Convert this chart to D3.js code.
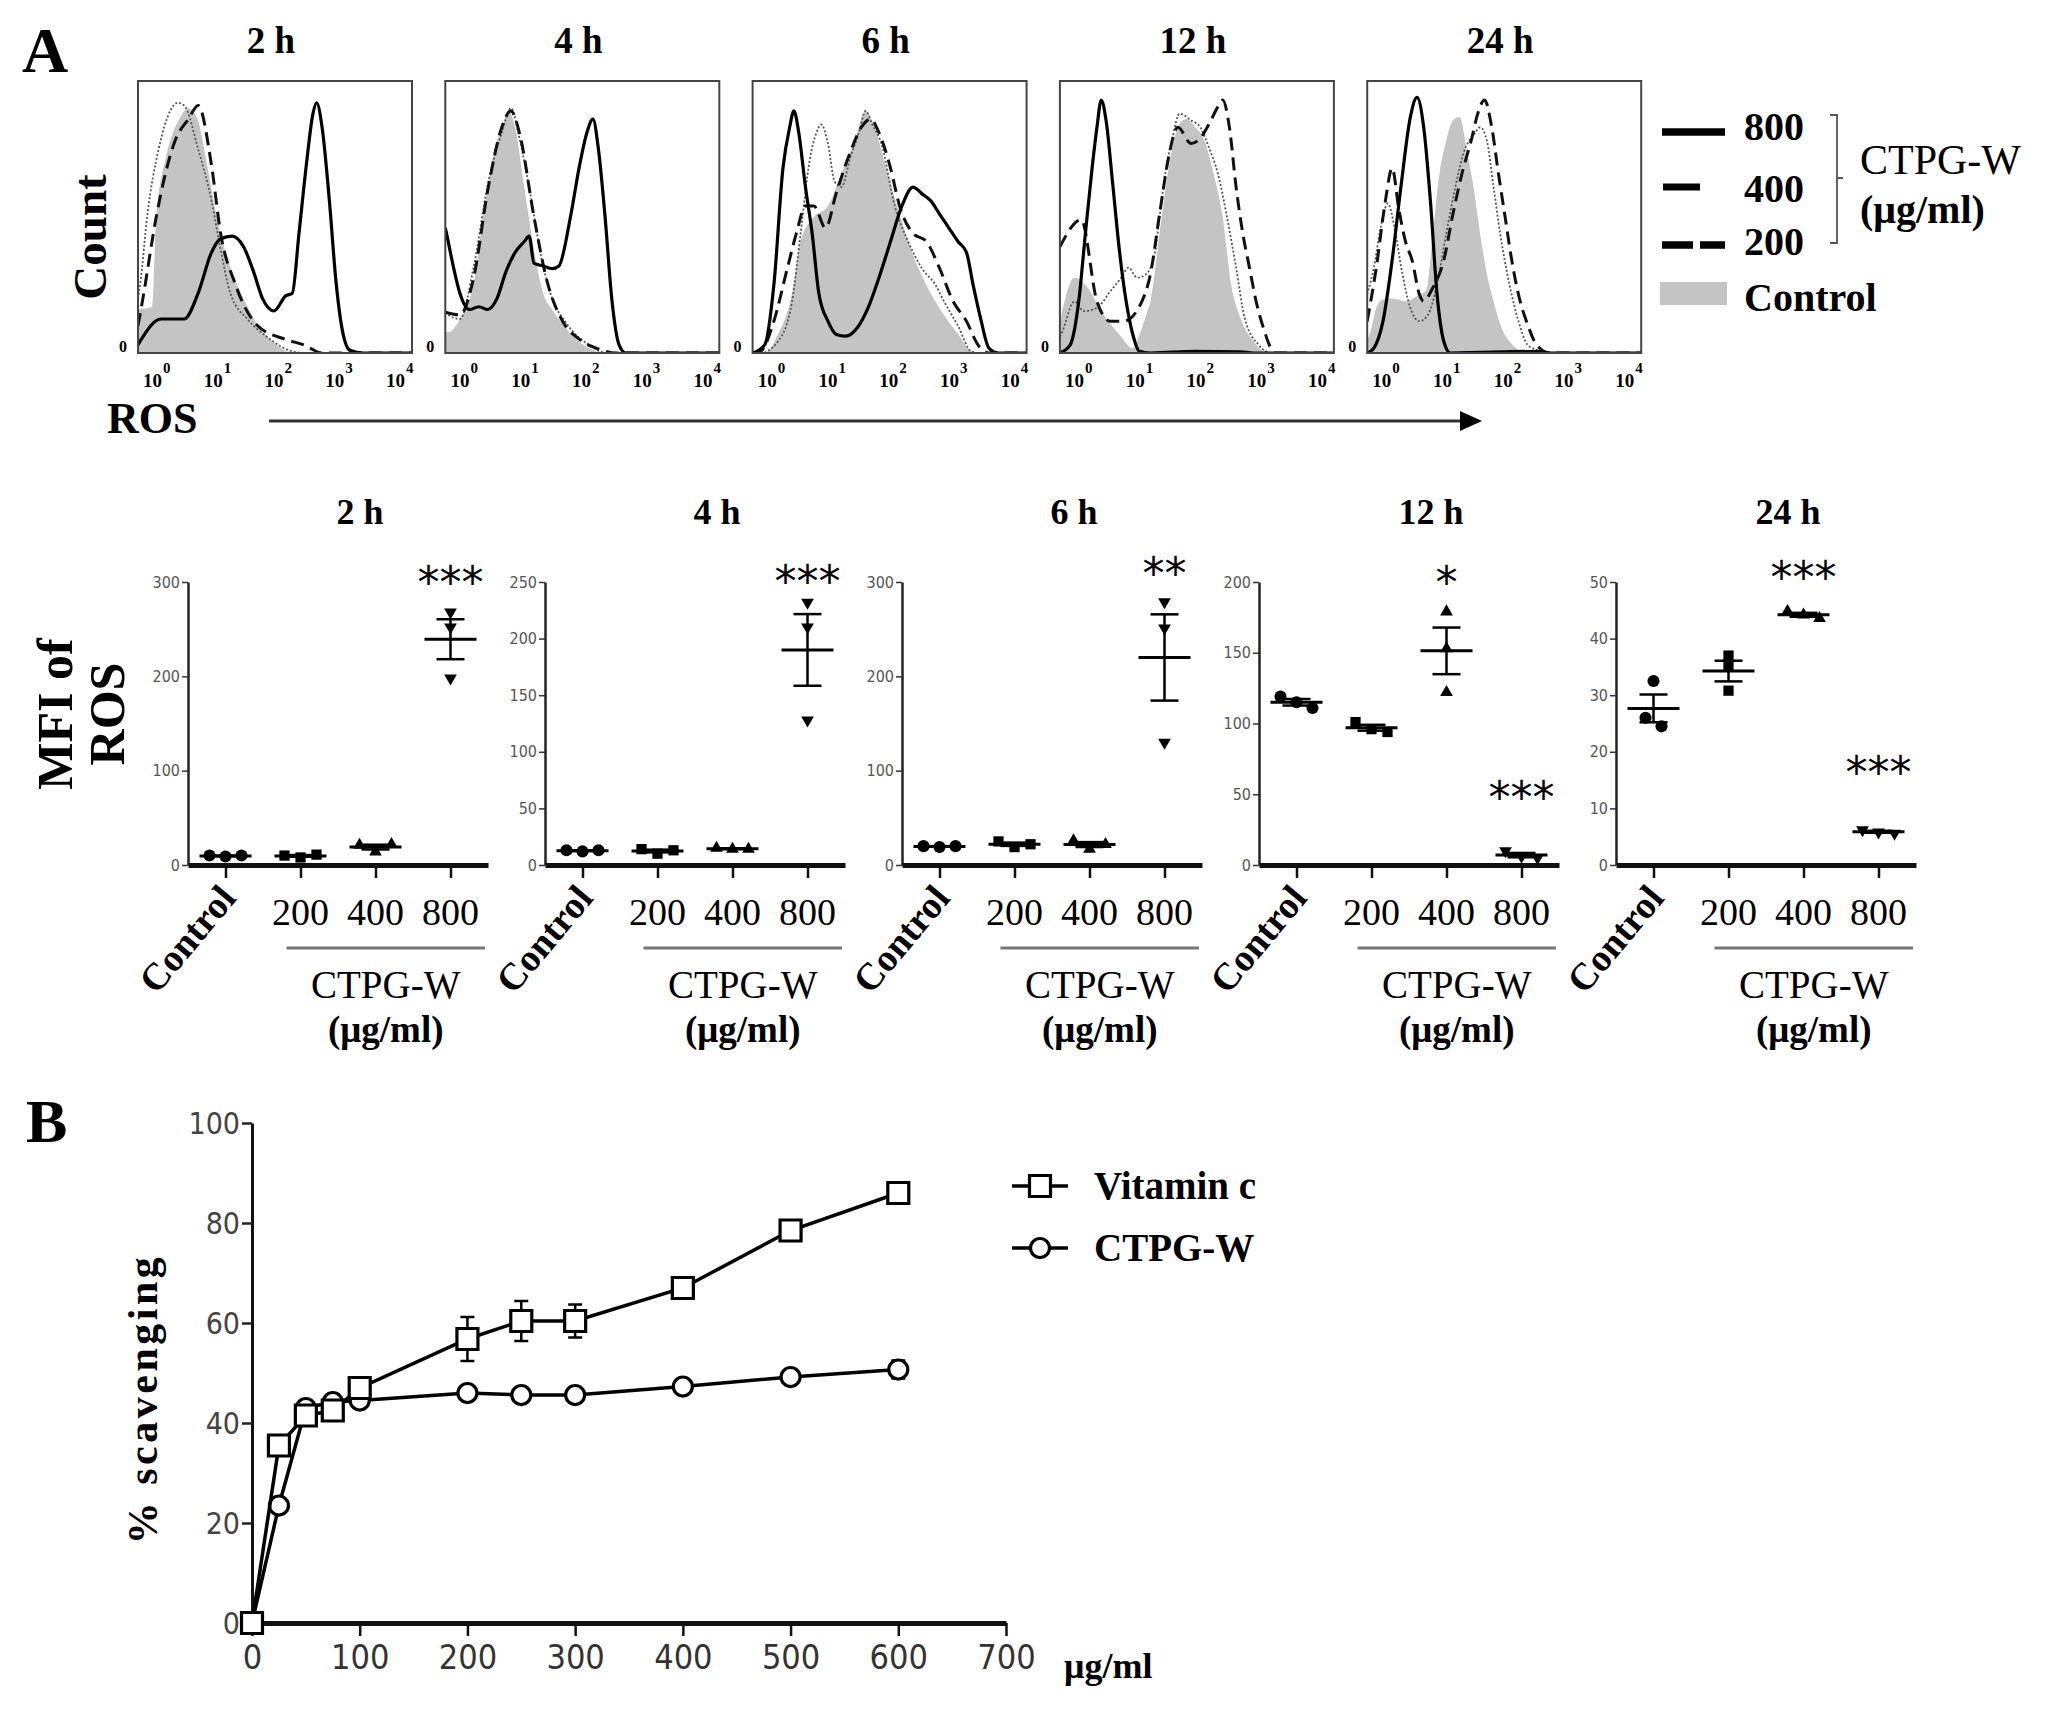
<!DOCTYPE html>
<html>
<head>
<meta charset="utf-8">
<script src="https://cdn.jsdelivr.net/npm/d3@7"></script>
<style>
  body { margin: 0; background: #fff; }
  svg { display: block; }
</style>
</head>
<body>
<div id="chart"></div>
<script>
// ---------- data ----------
const timePoints = ['2 h', '4 h', '6 h', '12 h', '24 h'];
const doseGroups = ['Control', '200', '400', '800'];

// flow histograms: [log10 ROS, fraction of panel height]
const histControl = [
  [[-0.38,0.16],[-0.15,0.17],[-0.08,0.5],[0.08,0.72],[0.3,0.86],[0.45,0.9],[0.6,0.86],[0.75,0.7],[0.9,0.52],[1.05,0.38],[1.2,0.28],[1.4,0.18],[1.6,0.1],[1.9,0.03],[2.15,0],[4.13,0]],
  [[-0.38,0.08],[-0.33,0.076],[-0.14,0.125],[0.09,0.26],[0.24,0.5],[0.39,0.71],[0.55,0.83],[0.66,0.89],[0.77,0.83],[0.92,0.61],[1.08,0.38],[1.23,0.22],[1.38,0.16],[1.61,0.09],[1.83,0.04],[2.06,0.01],[2.21,0],[4.13,0]],
  [[-0.38,0],[-0.18,0],[0.04,0.07],[0.27,0.22],[0.41,0.41],[0.63,0.5],[0.86,0.54],[1.08,0.66],[1.3,0.78],[1.48,0.89],[1.63,0.83],[1.82,0.68],[2.04,0.51],[2.26,0.36],[2.48,0.25],[2.77,0.14],[3.0,0.07],[3.22,0.006],[3.29,0],[4.13,0]],
  [[-0.38,0.117],[-0.14,0.277],[0.08,0.24],[0.3,0.154],[0.6,0.068],[0.82,0.018],[0.93,0.068],[1.04,0.14],[1.11,0.19],[1.26,0.44],[1.41,0.68],[1.56,0.83],[1.7,0.86],[1.85,0.83],[2.0,0.78],[2.15,0.66],[2.3,0.5],[2.44,0.25],[2.59,0.13],[2.81,0.043],[3.03,0],[4.13,0]],
  [[-0.38,0.05],[-0.34,0.068],[-0.23,0.166],[-0.12,0.197],[0.03,0.2],[0.25,0.19],[0.48,0.215],[0.59,0.23],[0.7,0.437],[0.81,0.66],[0.92,0.78],[1.03,0.856],[1.14,0.868],[1.26,0.745],[1.37,0.61],[1.48,0.437],[1.59,0.29],[1.7,0.19],[1.81,0.105],[1.96,0.043],[2.11,0.012],[2.26,0],[4.13,0]]
];
const hist200 = [
  [[-0.38,0.1],[-0.3,0.2],[-0.08,0.5],[0.23,0.78],[0.45,0.86],[0.61,0.91],[0.83,0.69],[0.98,0.44],[1.21,0.26],[1.59,0.1],[2.05,0.05],[2.35,0.03],[2.65,0],[4.13,0]],
  [[-0.38,0.15],[-0.14,0.14],[0.09,0.28],[0.32,0.6],[0.55,0.83],[0.7,0.89],[0.85,0.8],[1.08,0.5],[1.3,0.26],[1.53,0.125],[1.83,0.05],[2.14,0.015],[2.44,0],[4.13,0]],
  [[-0.38,0],[-0.25,0.006],[-0.03,0.117],[0.19,0.31],[0.34,0.44],[0.49,0.54],[0.63,0.54],[0.82,0.46],[1.0,0.59],[1.23,0.74],[1.41,0.83],[1.56,0.86],[1.7,0.81],[1.89,0.68],[2.04,0.54],[2.26,0.44],[2.48,0.41],[2.7,0.31],[2.92,0.19],[3.14,0.117],[3.33,0.03],[3.51,0],[4.13,0]],
  [[-0.38,0.39],[-0.03,0.49],[0.23,0.19],[0.45,0.117],[0.67,0.117],[0.97,0.19],[1.11,0.29],[1.26,0.51],[1.41,0.72],[1.56,0.83],[1.78,0.77],[1.93,0.79],[2.07,0.84],[2.22,0.905],[2.3,0.93],[2.41,0.83],[2.52,0.61],[2.63,0.44],[2.74,0.314],[2.85,0.19],[2.97,0.092],[3.11,0.012],[3.18,0],[4.13,0]],
  [[-0.38,0.117],[-0.23,0.314],[-0.08,0.56],[0.03,0.68],[0.14,0.53],[0.25,0.41],[0.36,0.34],[0.48,0.215],[0.55,0.19],[0.7,0.24],[0.88,0.34],[1.03,0.51],[1.18,0.66],[1.33,0.78],[1.44,0.88],[1.55,0.93],[1.67,0.83],[1.78,0.66],[1.89,0.5],[2.0,0.34],[2.11,0.215],[2.26,0.105],[2.41,0.03],[2.63,0],[4.13,0]]
];
const hist400 = [
  [[-0.38,0.2],[-0.34,0.26],[-0.23,0.5],[-0.04,0.75],[0.15,0.89],[0.27,0.92],[0.38,0.91],[0.61,0.75],[0.83,0.56],[0.98,0.38],[1.14,0.22],[1.44,0.12],[1.74,0.06],[2.05,0.015],[2.35,0],[4.13,0]],
  [[-0.38,0.15],[-0.33,0.14],[-0.14,0.125],[0.09,0.32],[0.32,0.62],[0.55,0.81],[0.7,0.9],[0.85,0.78],[1.0,0.61],[1.23,0.32],[1.38,0.2],[1.61,0.11],[1.98,0.03],[2.29,0],[4.13,0]],
  [[-0.38,0],[-0.25,0],[0.04,0.043],[0.27,0.19],[0.41,0.44],[0.56,0.71],[0.67,0.81],[0.75,0.84],[0.86,0.77],[0.97,0.63],[1.08,0.61],[1.23,0.72],[1.37,0.81],[1.48,0.89],[1.59,0.84],[1.74,0.77],[1.96,0.54],[2.18,0.41],[2.41,0.31],[2.63,0.25],[2.77,0.19],[3.0,0.1],[3.22,0.006],[3.37,0],[4.13,0]],
  [[-0.38,0.06],[-0.36,0.068],[-0.14,0.19],[0.01,0.154],[0.23,0.166],[0.45,0.227],[0.63,0.277],[0.75,0.314],[0.89,0.277],[1.04,0.29],[1.19,0.376],[1.26,0.5],[1.37,0.68],[1.48,0.8],[1.59,0.88],[1.78,0.855],[1.93,0.83],[2.07,0.757],[2.22,0.66],[2.37,0.5],[2.52,0.314],[2.66,0.13],[2.89,0.03],[3.11,0],[4.13,0]],
  [[-0.38,0.216],[-0.27,0.314],[-0.16,0.46],[-0.04,0.55],[0.07,0.46],[0.18,0.314],[0.33,0.166],[0.48,0.117],[0.62,0.14],[0.77,0.253],[0.92,0.437],[1.07,0.61],[1.22,0.745],[1.37,0.8],[1.48,0.83],[1.59,0.78],[1.7,0.61],[1.81,0.437],[1.96,0.253],[2.11,0.117],[2.26,0.03],[2.41,0.012],[2.56,0],[4.13,0]]
];
const hist800 = [
  [[-0.38,0.03],[-0.34,0.045],[0,0.125],[0.38,0.125],[0.61,0.22],[0.83,0.37],[0.98,0.42],[1.17,0.43],[1.36,0.39],[1.52,0.3],[1.67,0.2],[1.86,0.155],[2.05,0.21],[2.16,0.22],[2.27,0.44],[2.39,0.69],[2.5,0.88],[2.56,0.92],[2.65,0.83],[2.77,0.56],[2.88,0.26],[2.99,0.076],[3.11,0.01],[3.33,0],[4.13,0]],
  [[-0.38,0.46],[-0.36,0.44],[-0.25,0.32],[-0.14,0.22],[0.02,0.16],[0.17,0.17],[0.32,0.16],[0.47,0.2],[0.62,0.3],[0.77,0.37],[0.92,0.41],[1.0,0.43],[1.08,0.33],[1.23,0.32],[1.38,0.31],[1.49,0.32],[1.68,0.5],[1.83,0.69],[1.95,0.81],[2.05,0.86],[2.14,0.75],[2.25,0.5],[2.36,0.2],[2.48,0.03],[2.59,0],[4.13,0]],
  [[-0.38,0],[-0.18,0.03],[-0.03,0.25],[0.12,0.68],[0.23,0.83],[0.3,0.89],[0.38,0.81],[0.49,0.61],[0.6,0.44],[0.71,0.22],[0.86,0.117],[1.0,0.068],[1.15,0.062],[1.34,0.092],[1.52,0.166],[1.7,0.277],[1.89,0.41],[2.07,0.536],[2.26,0.61],[2.41,0.585],[2.55,0.56],[2.7,0.51],[2.85,0.46],[3.0,0.41],[3.14,0.37],[3.25,0.25],[3.37,0.13],[3.51,0.018],[3.66,0],[4.13,0]],
  [[-0.38,0],[-0.21,0.03],[-0.07,0.19],[0.04,0.44],[0.15,0.68],[0.23,0.83],[0.3,0.93],[0.38,0.855],[0.49,0.62],[0.6,0.376],[0.71,0.19],[0.82,0.068],[0.93,0.006],[1.11,0],[1.85,0.006],[2.59,0.004],[2.81,0],[4.13,0]],
  [[-0.38,0],[-0.27,0.018],[-0.12,0.117],[0.03,0.34],[0.18,0.62],[0.33,0.867],[0.44,0.94],[0.55,0.83],[0.66,0.56],[0.77,0.215],[0.88,0.043],[0.99,0],[2.41,0.006],[2.63,0],[4.13,0]]
];
const histDecades = [0, 1, 2, 3, 4];

// MFI of ROS, three replicates per group and time point
const mfiControl = [[10, 9, 10], [13, 12, 13], [20, 19, 20], [119, 115, 111], [32.5, 26, 24.5]];
const mfi200 = [[10, 8, 11], [14, 10, 13], [25, 19, 22], [101, 96, 94], [37, 35, 30.8]];
const mfi400 = [[21, 14, 22], [15, 14, 14], [26, 17, 22], [179, 153, 122], [44.8, 44.2, 43.6]];
const mfi800 = [[268, 252, 198], [232, 210, 128], [279, 251, 130], [10, 6, 5], [6.2, 5.8, 5.6]];
const mfiMax = [300, 250, 300, 200, 50];
const mfiTicks = [
  [0, 100, 200, 300],
  [0, 50, 100, 150, 200, 250],
  [0, 100, 200, 300],
  [0, 50, 100, 150, 200],
  [0, 10, 20, 30, 40, 50]
];
// significance marks, placed at a value on each panel's axis
const mfiStars = [
  { time: 0, group: '800', label: '***', at: 309 },
  { time: 1, group: '800', label: '***', at: 258 },
  { time: 2, group: '800', label: '**', at: 318 },
  { time: 3, group: '400', label: '*', at: 206 },
  { time: 3, group: '800', label: '***', at: 54 },
  { time: 4, group: '400', label: '***', at: 52.3 },
  { time: 4, group: '800', label: '***', at: 17.9 }
];

// panel B: scavenging
const concentrations = [0, 25, 50, 75, 100, 200, 250, 300, 400, 500, 600];
const vitaminC = [0, 35.5, 41.5, 42.5, 47, 56.8, 60.4, 60.4, 67, 78.5, 86];
const vitaminCErr = [0.5, 1.5, 1.5, 2, 1, 4.4, 4, 3.3, 1, 1.8, 1.8];
const ctpgW = [0, 23.5, 43, 44.2, 44.5, 46, 45.6, 45.6, 47.3, 49.2, 50.7];
const ctpgWErr = [0.5, 0.8, 0.8, 1.5, 0.8, 0.7, 0.7, 0.7, 0.7, 0.8, 1.8];
const scavXTicks = [0, 100, 200, 300, 400, 500, 600, 700];
const scavYTicks = [0, 20, 40, 60, 80, 100];

// ---------- drawing ----------
const serif = "'Liberation Serif','Times New Roman',serif";
const narrow = "'Liberation Sans Narrow','DejaVu Sans Condensed','Arial Narrow',sans-serif";

const svg = d3.select('#chart').append('svg')
  .attr('width', 2055)
  .attr('height', 1709)
  .style('background', '#fff');

svg.append('text').attr('x', 22).attr('y', 72)
  .attr('font-family', serif).attr('font-weight', 'bold').attr('font-size', 64)
  .text('A');

// --- histograms ---
const hist = { left: 138, step: 307.3, top: 81, width: 274, height: 272 };
const hx = d3.scaleLog().domain([10 ** -0.38, 10 ** 4.13]).range([0, hist.width]);
const hy = d3.scaleLinear().domain([0, 1]).range([hist.height, 0]);
const histLine = d3.line().x(d => hx(10 ** d[0])).y(d => hy(d[1])).curve(d3.curveMonotoneX);
const histArea = d3.area().x(d => hx(10 ** d[0])).y0(hist.height).y1(d => hy(d[1])).curve(d3.curveMonotoneX);

timePoints.forEach((t, i) => {
  const g = svg.append('g')
    .attr('transform', `translate(${hist.left + i * hist.step},${hist.top})`);

  g.append('clipPath').attr('id', `hclip-${i}`)
    .append('rect').attr('width', hist.width).attr('height', hist.height);
  const plot = g.append('g').attr('clip-path', `url(#hclip-${i})`);

  plot.append('path').datum(histControl[i]).attr('d', histArea).attr('fill', '#c4c4c4');
  plot.append('path').datum(hist400[i]).attr('d', histLine)
    .attr('fill', 'none').attr('stroke', '#555').attr('stroke-width', 1.8)
    .attr('stroke-dasharray', '2,2');
  plot.append('path').datum(hist200[i]).attr('d', histLine)
    .attr('fill', 'none').attr('stroke', '#111').attr('stroke-width', 3)
    .attr('stroke-dasharray', '13,7');
  plot.append('path').datum(hist800[i]).attr('d', histLine)
    .attr('fill', 'none').attr('stroke', '#000').attr('stroke-width', 3.2);

  g.append('rect').attr('width', hist.width).attr('height', hist.height)
    .attr('fill', 'none').attr('stroke', '#444').attr('stroke-width', 2);

  g.append('text').attr('x', hist.width / 2 - 4).attr('y', -28)
    .attr('text-anchor', 'middle')
    .attr('font-family', serif).attr('font-weight', 'bold').attr('font-size', 37)
    .text(t);

  g.append('text').attr('x', -11).attr('y', hist.height - 1)
    .attr('text-anchor', 'end')
    .attr('font-family', serif).attr('font-weight', 'bold').attr('font-size', 16)
    .text('0');

  const ticks = g.selectAll('.dec').data(histDecades).join('g')
    .attr('class', 'dec')
    .attr('transform', d => `translate(${hx(10 ** d)},${hist.height})`);
  ticks.append('text').attr('x', 1).attr('y', 34)
    .attr('text-anchor', 'end')
    .attr('font-family', serif).attr('font-weight', 'bold').attr('font-size', 19)
    .text('10');
  ticks.append('text').attr('x', 2).attr('y', 20)
    .attr('font-family', serif).attr('font-weight', 'bold').attr('font-size', 15)
    .text(d => d);
});

svg.append('text')
  .attr('transform', 'translate(106,237) rotate(-90)')
  .attr('text-anchor', 'middle')
  .attr('font-family', serif).attr('font-weight', 'bold').attr('font-size', 47)
  .text('Count');

svg.append('text').attr('x', 107).attr('y', 433)
  .attr('font-family', serif).attr('font-weight', 'bold').attr('font-size', 44)
  .text('ROS');

svg.append('line').attr('x1', 269).attr('x2', 1462).attr('y1', 421).attr('y2', 421)
  .attr('stroke', '#333').attr('stroke-width', 3);
svg.append('path').attr('d', 'M1460,411 L1482,421 L1460,431 Z').attr('fill', '#000');

// legend for histograms
const histLegend = svg.append('g');
histLegend.append('line').attr('x1', 1662).attr('x2', 1725).attr('y1', 132).attr('y2', 132)
  .attr('stroke', '#000').attr('stroke-width', 7.5);
histLegend.append('line').attr('x1', 1663).attr('x2', 1700).attr('y1', 187).attr('y2', 187)
  .attr('stroke', '#000').attr('stroke-width', 7);
histLegend.append('line').attr('x1', 1662).attr('x2', 1725).attr('y1', 245).attr('y2', 245)
  .attr('stroke', '#000').attr('stroke-width', 7.5).attr('stroke-dasharray', '31,7');
histLegend.append('rect').attr('x', 1660).attr('y', 282).attr('width', 67).attr('height', 23)
  .attr('fill', '#c4c4c4');
[['800', 140], ['400', 202], ['200', 255], ['Control', 311]].forEach(([txt, y]) => {
  histLegend.append('text').attr('x', 1744).attr('y', y)
    .attr('font-family', serif).attr('font-weight', 'bold').attr('font-size', 40).text(txt);
});
histLegend.append('path').attr('d', 'M1830,115 H1837 V243 H1830 M1837,178 H1843')
  .attr('fill', 'none').attr('stroke', '#555').attr('stroke-width', 1.8);
histLegend.append('text').attr('x', 1860).attr('y', 174)
  .attr('font-family', serif).attr('font-size', 42).text('CTPG-W');
histLegend.append('text').attr('x', 1860).attr('y', 223)
  .attr('font-family', serif).attr('font-weight', 'bold').attr('font-size', 40).text('(μg/ml)');

// --- MFI scatter panels ---
const mfi = { left: 188, step: 357, width: 300, top: 582, bottom: 865 };
const mfiSeries = [mfiControl, mfi200, mfi400, mfi800];
const groupSymbols = [d3.symbolCircle, d3.symbolSquare, d3.symbolTriangle, d3.symbolTriangle];
const groupSizes = [115, 105, 70, 70];
const groupFlip = [0, 0, 0, 180];
const mx = d3.scalePoint().domain(doseGroups).range([0, mfi.width]).padding(0.5);

function spread(values, y, gap, spacing) {
  const order = values.map((v, k) => k).sort((a, b) => values[a] - values[b]);
  const offsets = values.map(() => 0);
  let cluster = [order[0]];
  const flush = () => {
    cluster.sort((a, b) => a - b)
      .forEach((k, j) => { offsets[k] = (j - (cluster.length - 1) / 2) * spacing; });
  };
  for (let j = 1; j < order.length; j++) {
    if (Math.abs(y(values[order[j]]) - y(values[order[j - 1]])) < gap) cluster.push(order[j]);
    else { flush(); cluster = [order[j]]; }
  }
  flush();
  return offsets;
}

timePoints.forEach((t, i) => {
  const g = svg.append('g').attr('transform', `translate(${mfi.left + i * mfi.step},0)`);
  const my = d3.scaleLinear().domain([0, mfiMax[i]]).range([mfi.bottom, mfi.top]);

  const yAxis = g.append('g')
    .call(d3.axisLeft(my).tickValues(mfiTicks[i]).tickSize(6).tickSizeOuter(0).tickPadding(2));
  yAxis.select('.domain').attr('stroke', '#222').attr('stroke-width', 2.5);
  yAxis.selectAll('.tick line').attr('stroke', '#333').attr('stroke-width', 1.5);
  yAxis.selectAll('.tick text').attr('font-family', narrow).attr('font-size', 16).attr('fill', '#555');

  const xAxis = g.append('g').attr('transform', `translate(0,${mfi.bottom})`)
    .call(d3.axisBottom(mx).tickSize(13).tickSizeOuter(0).tickFormat(''));
  xAxis.select('.domain').attr('stroke', '#111').attr('stroke-width', 5);
  xAxis.selectAll('.tick line').attr('stroke', '#111').attr('stroke-width', 2.5);

  // group labels
  g.append('text')
    .attr('transform', `translate(${mx('Control') + 12},${mfi.bottom + 34}) rotate(-50)`)
    .attr('text-anchor', 'end')
    .attr('font-family', serif).attr('font-weight', 'bold').attr('font-size', 38)
    .text('Control');
  doseGroups.slice(1).forEach(d => {
    g.append('text').attr('x', mx(d)).attr('y', mfi.bottom + 60)
      .attr('text-anchor', 'middle')
      .attr('font-family', serif).attr('font-size', 38)
      .text(d);
  });
  g.append('line')
    .attr('x1', mx('200') - 14).attr('x2', mfi.width - 3)
    .attr('y1', mfi.bottom + 83).attr('y2', mfi.bottom + 83)
    .attr('stroke', '#777').attr('stroke-width', 3);
  const labelMid = (mx('200') - 14 + mfi.width - 3) / 2;
  g.append('text').attr('x', labelMid).attr('y', mfi.bottom + 133)
    .attr('text-anchor', 'middle')
    .attr('font-family', serif).attr('font-size', 39)
    .text('CTPG-W');
  g.append('text').attr('x', labelMid).attr('y', mfi.bottom + 177)
    .attr('text-anchor', 'middle')
    .attr('font-family', serif).attr('font-weight', 'bold').attr('font-size', 37)
    .text('(μg/ml)');

  g.append('text').attr('x', 172).attr('y', 524)
    .attr('text-anchor', 'middle')
    .attr('font-family', serif).attr('font-weight', 'bold').attr('font-size', 36)
    .text(t);

  // points with mean ± SEM
  doseGroups.forEach((grp, j) => {
    const vals = mfiSeries[j][i];
    const cx = mx(grp);
    const mean = d3.mean(vals);
    const sem = d3.deviation(vals) / Math.sqrt(vals.length);
    const offs = spread(vals, my, 11, 16);
    const sym = d3.symbol().type(groupSymbols[j]).size(groupSizes[j]);

    g.selectAll(null).data(vals).join('path')
      .attr('d', sym)
      .attr('transform', (v, k) => `translate(${cx + offs[k]},${my(v)}) rotate(${groupFlip[j]})`)
      .attr('fill', '#000');

    g.append('line').attr('x1', cx - 26).attr('x2', cx + 26)
      .attr('y1', my(mean)).attr('y2', my(mean))
      .attr('stroke', '#000').attr('stroke-width', 3);
    g.append('line').attr('x1', cx).attr('x2', cx)
      .attr('y1', my(mean - sem)).attr('y2', my(mean + sem))
      .attr('stroke', '#000').attr('stroke-width', 2.5);
    [mean - sem, mean + sem].forEach(v => {
      g.append('line').attr('x1', cx - 14).attr('x2', cx + 14)
        .attr('y1', my(v)).attr('y2', my(v))
        .attr('stroke', '#000').attr('stroke-width', 2.5);
    });
  });

  mfiStars.filter(s => s.time === i).forEach(s => {
    g.append('text').attr('x', mx(s.group)).attr('y', my(s.at) + 24)
      .attr('text-anchor', 'middle')
      .attr('font-family', "'DejaVu Sans',sans-serif").attr('font-size', 44)
      .text(s.label);
  });
});

['MFI of', 'ROS'].forEach((txt, k) => {
  svg.append('text')
    .attr('transform', `translate(${72 + k * 52},714) rotate(-90)`)
    .attr('text-anchor', 'middle')
    .attr('font-family', serif).attr('font-weight', 'bold').attr('font-size', 50)
    .text(txt);
});

// --- panel B ---
svg.append('text').attr('x', 26).attr('y', 1142)
  .attr('font-family', serif).attr('font-weight', 'bold').attr('font-size', 62)
  .text('B');

const bx = d3.scaleLinear().domain([0, 700]).range([252, 1006]);
const by = d3.scaleLinear().domain([0, 100]).range([1623, 1123]);

const bYAxis = svg.append('g').attr('transform', `translate(${bx(0)},0)`)
  .call(d3.axisLeft(by).tickValues(scavYTicks).tickSize(10).tickSizeOuter(0).tickPadding(2));
bYAxis.select('.domain').attr('stroke', '#111').attr('stroke-width', 3);
bYAxis.selectAll('.tick line').attr('stroke', '#222').attr('stroke-width', 2.5);
bYAxis.selectAll('.tick text').attr('font-family', narrow).attr('font-size', 30).attr('fill', '#444')
  .attr('dy', '0.35em');

const bXAxis = svg.append('g').attr('transform', `translate(0,${by(0)})`)
  .call(d3.axisBottom(bx).tickValues(scavXTicks).tickSize(13).tickSizeOuter(0).tickPadding(9));
bXAxis.select('.domain').attr('stroke', '#111').attr('stroke-width', 5);
bXAxis.selectAll('.tick line').attr('stroke', '#111').attr('stroke-width', 2.5);
bXAxis.selectAll('.tick text').attr('font-family', narrow).attr('font-size', 34).attr('fill', '#333');

svg.append('text').attr('x', 1064).attr('y', 1678)
  .attr('font-family', serif).attr('font-weight', 'bold').attr('font-size', 36)
  .text('μg/ml');

svg.append('text')
  .attr('transform', `translate(157,${(by(0) + by(100)) / 2 + 26}) rotate(-90)`)
  .attr('text-anchor', 'middle')
  .attr('font-family', serif).attr('font-weight', 'bold').attr('font-size', 42)
  .attr('letter-spacing', 3.5)
  .text('% scavenging');

const scavSeries = [
  { name: 'CTPG-W', values: ctpgW, err: ctpgWErr, symbol: d3.symbolCircle, size: 285 },
  { name: 'Vitamin c', values: vitaminC, err: vitaminCErr, symbol: d3.symbolSquare, size: 441 }
];
const scavLine = d3.line().x(d => bx(d[0])).y(d => by(d[1]));

scavSeries.forEach(s => {
  const pts = concentrations.map((c, k) => [c, s.values[k], s.err[k]]);
  svg.append('path').datum(pts).attr('d', scavLine)
    .attr('fill', 'none').attr('stroke', '#000').attr('stroke-width', 3.5);
  const eb = svg.append('g');
  pts.forEach(p => {
    eb.append('line').attr('x1', bx(p[0])).attr('x2', bx(p[0]))
      .attr('y1', by(p[1] - p[2])).attr('y2', by(p[1] + p[2]))
      .attr('stroke', '#000').attr('stroke-width', 2.5);
    [p[1] - p[2], p[1] + p[2]].forEach(v => {
      eb.append('line').attr('x1', bx(p[0]) - 7).attr('x2', bx(p[0]) + 7)
        .attr('y1', by(v)).attr('y2', by(v))
        .attr('stroke', '#000').attr('stroke-width', 2.5);
    });
  });
  svg.selectAll(null).data(pts).join('path')
    .attr('d', d3.symbol().type(s.symbol).size(s.size))
    .attr('transform', p => `translate(${bx(p[0])},${by(p[1])})`)
    .attr('fill', '#fff').attr('stroke', '#000').attr('stroke-width', 3.2);
});

const bLegend = svg.append('g');
[['Vitamin c', d3.symbolSquare, 441, 1186], ['CTPG-W', d3.symbolCircle, 285, 1248]].forEach(([name, type, size, y]) => {
  bLegend.append('line').attr('x1', 1012).attr('x2', 1068).attr('y1', y).attr('y2', y)
    .attr('stroke', '#000').attr('stroke-width', 3.5);
  bLegend.append('path').attr('d', d3.symbol().type(type).size(size))
    .attr('transform', `translate(1040,${y})`)
    .attr('fill', '#fff').attr('stroke', '#000').attr('stroke-width', 3.2);
  bLegend.append('text').attr('x', 1094).attr('y', y + 13)
    .attr('font-family', serif).attr('font-weight', 'bold').attr('font-size', 39)
    .text(name);
});
</script>
</body>
</html>
